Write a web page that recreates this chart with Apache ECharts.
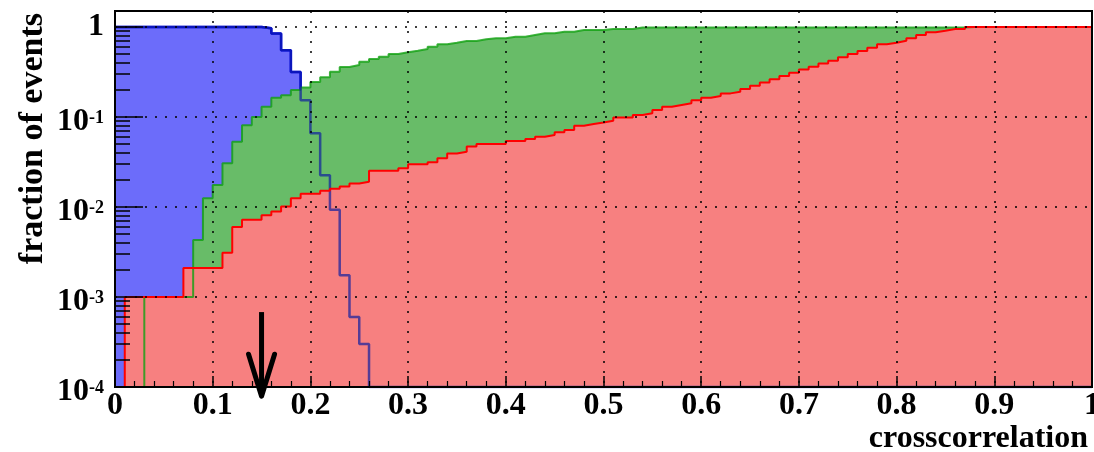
<!DOCTYPE html>
<html><head><meta charset="utf-8">
<script src="https://cdn.jsdelivr.net/npm/echarts@6/dist/echarts.min.js"></script>
<style>html,body{margin:0;padding:0;background:#fff}#c{width:1094px;height:452px}</style>
</head><body><div id="c"></div>
<script>
// ---- data ----
const BIN_WIDTH = 0.01;           // histogram bin width (100 bins on [0,1])
const X_MIN = 0, X_MAX = 1, X_INTERVAL = 0.1;
const Y_MIN = 1e-4, Y_MAX = 1.506;

// fraction of events per bin (bins 0.00-0.01, 0.01-0.02, ... 0.99-1.00); 0 = empty
const blueFraction = [
  1,1,1,1,1,1,1,1,1,1,
  1,1,1,1,1,0.97,0.845,0.55,0.316,0.154,
  0.066,0.0225,0.0093,0.00175,0.0006,0.0003,0,0,0,0,
  0,0,0,0,0,0,0,0,0,0,
  0,0,0,0,0,0,0,0,0,0,
  0,0,0,0,0,0,0,0,0,0,
  0,0,0,0,0,0,0,0,0,0,
  0,0,0,0,0,0,0,0,0,0,
  0,0,0,0,0,0,0,0,0,0,
  0,0,0,0,0,0,0,0,0,0
];
const greenFraction = [
  0,0,0,0.001,0.001,0.001,0.001,0.001,0.0043,0.0125,
  0.0176,0.0306,0.053,0.081,0.10,0.13,0.164,0.175,0.20,0.213,
  0.245,0.276,0.318,0.36,0.378,0.41,0.441,0.468,0.501,0.523,
  0.545,0.569,0.604,0.642,0.669,0.70,0.70,0.73,0.749,0.749,
  0.78,0.78,0.815,0.85,0.85,0.887,0.887,0.926,0.926,0.926,
  0.95,0.95,0.95,0.99,0.99,0.99,0.99,0.99,0.99,0.99,
  0.99,0.99,0.99,0.99,0.99,0.99,0.99,0.99,0.99,0.99,
  0.99,0.99,0.99,0.99,0.99,0.99,0.99,0.99,0.99,0.99,
  0.99,0.99,0.99,0.99,0.99,0.99,0.99,1,1,1,
  1,1,1,1,1,1,1,1,1,1
];
const redFraction = [
  0,0.001,0.001,0.001,0.001,0.001,0.001,0.0021,0.0021,0.0021,
  0.0021,0.0031,0.006,0.0072,0.0072,0.0081,0.0089,0.0101,0.0125,0.014,
  0.014,0.0152,0.016,0.0169,0.0182,0.0191,0.0253,0.0253,0.0253,0.027,
  0.0298,0.0298,0.0314,0.0347,0.0394,0.041,0.047,0.05,0.05,0.05,
  0.054,0.054,0.057,0.0605,0.063,0.0676,0.0716,0.08,0.0835,0.087,
  0.091,0.099,0.099,0.105,0.11,0.12,0.13,0.136,0.142,0.154,
  0.164,0.171,0.183,0.191,0.205,0.223,0.242,0.262,0.286,0.31,
  0.338,0.362,0.393,0.422,0.46,0.50,0.541,0.589,0.642,0.669,
  0.704,0.749,0.815,0.873,0.91,0.95,0.95,1,1,1,
  1,1,1,1,1,1,1,1,1,1
];
// log-axis minor tick values
const yMinorTicks = [
  2e-4,3e-4,4e-4,5e-4,6e-4,7e-4,8e-4,9e-4,
  2e-3,3e-3,4e-3,5e-3,6e-3,7e-3,8e-3,9e-3,
  2e-2,3e-2,4e-2,5e-2,6e-2,7e-2,8e-2,9e-2,
  0.2,0.3,0.4,0.5,0.6,0.7,0.8,0.9
];
// cut marker arrow: x position, shaft top, tip
const arrowMarker = [[0.15, 6.8e-4, 7.9e-5]];

const xTitle = 'crosscorrelation';
const yTitle = 'fraction of events';

// ---- build ----
function toSteps(vals) {
  const d = vals.map((v, i) => [+(i * BIN_WIDTH).toFixed(2), Math.max(v, Y_MIN)]);
  d.push([X_MAX, Math.max(vals[vals.length - 1], Y_MIN)]);
  return d;
}
const FONT = '"Liberation Serif", "Times New Roman", serif';
const blueData = toSteps(blueFraction), greenData = toSteps(greenFraction), redData = toSteps(redFraction);

function areaSeries(data, fill, z) {
  return { type: 'line', data, step: 'end', symbol: 'none', z, silent: true,
    lineStyle: { width: 0, opacity: 0 }, areaStyle: { color: fill, opacity: 1, origin: 'start' } };
}
function lineSeries(data, color, width, opacity, z) {
  return { type: 'line', data, step: 'end', symbol: 'none', z, silent: true,
    lineStyle: { color, width, opacity } };
}

const chart = echarts.init(document.getElementById('c'), null, { renderer: 'canvas' });
chart.setOption({
  animation: false,
  backgroundColor: '#fff',
  grid: { left: 115, right: 2, top: 11, bottom: 65, show: true, borderColor: '#000', borderWidth: 2, outerBoundsMode: 'none' },
  xAxis: [{
    type: 'value', min: X_MIN, max: X_MAX, interval: X_INTERVAL, z: 10,
    name: xTitle, nameLocation: 'end', nameGap: -4, nameMoveOverlap: false,
    nameTextStyle: { fontFamily: FONT, fontWeight: 'bold', fontSize: 32, color: '#000', align: 'right', verticalAlign: 'top', padding: [36, 0, 0, 0] },
    axisLine: { show: true, lineStyle: { color: '#000', width: 2 } },
    axisTick: { show: true, inside: true, length: 11, lineStyle: { color: '#000', width: 1.5 } },
    minorTick: { show: true, splitNumber: 5, length: 6, lineStyle: { color: '#000', width: 1.2 } },
    axisLabel: { fontFamily: FONT, fontWeight: 'bold', fontSize: 32, color: '#000', margin: 3, hideOverlap: false,
      showMinLabel: true, showMaxLabel: true },
    splitLine: { show: true, lineStyle: { color: '#000', width: 1.5, type: [2, 8] } }
  }],
  yAxis: [{
    type: 'log', logBase: 10, min: Y_MIN, max: Y_MAX, z: 10,
    name: yTitle, nameLocation: 'end', nameGap: -2, nameRotate: 90, nameMoveOverlap: false,
    nameTextStyle: { fontFamily: FONT, fontWeight: 'bold', fontSize: 34, color: '#000', align: 'right', verticalAlign: 'bottom', padding: [0, 0, 65, 0] },
    axisLine: { show: true, lineStyle: { color: '#000', width: 2 } },
    axisTick: { show: true, inside: true, length: 28, lineStyle: { color: '#000', width: 1.5 } },
    axisLabel: {
      fontFamily: FONT, fontWeight: 'bold', fontSize: 32, color: '#000', margin: 11, hideOverlap: false,
      showMinLabel: true, showMaxLabel: true,
      formatter: v => {
        const l = Math.log10(v), e = Math.round(l);
        if (Math.abs(l - e) > 1e-6) return '';
        if (e === 0) return '1';
        return '{b|10}{s|' + e + '}';
      },
      rich: {
        b: { fontFamily: FONT, fontWeight: 'bold', fontSize: 32, color: '#000', padding: [10, 0, 0, 0] },
        s: { fontFamily: FONT, fontWeight: 'bold', fontSize: 18, color: '#000', verticalAlign: 'top', padding: [13, 0, 0, 0] }
      }
    },
    splitLine: { show: true, lineStyle: { color: '#000', width: 1.5, type: [2, 8] } }
  }, {
    type: 'log', logBase: 10, min: Y_MIN, max: Y_MAX, z: 10, position: 'left',
    axisLine: { show: false }, axisLabel: { show: false }, splitLine: { show: false },
    axisTick: { show: true, inside: true, length: 15, customValues: yMinorTicks, lineStyle: { color: '#000', width: 1.5 } }
  }, {
    type: 'log', logBase: 10, min: Y_MIN, max: Y_MAX, z: 10, position: 'right',
    axisLine: { show: true, onZero: false, lineStyle: { color: '#000', width: 2 } },
    axisLabel: { show: false }, splitLine: { show: false }, axisTick: { show: false }
  }],
  series: [
    areaSeries(blueData, 'rgb(108,108,250)', 1),
    lineSeries(blueData, '#0000ff', 2.5, 1, 1.5),
    areaSeries(greenData, 'rgb(104,188,104)', 2),
    areaSeries(redData, 'rgb(247,128,128)', 3),
    lineSeries(greenData, '#10a010', 2, 0.8, 4),
    lineSeries(blueData, '#1020a0', 2.5, 0.7, 5),
    lineSeries(redData, '#ff0000', 2, 1, 6),
    {
      type: 'custom', z: 7, silent: true, clip: false,
      data: arrowMarker,
      encode: { x: 0, y: [1, 2] },
      renderItem: (params, api) => {
        const x = api.value(0);
        const top = api.coord([x, api.value(1)]);
        const tip = api.coord([x, api.value(2)]);
        return { type: 'group', children: [
          { type: 'line', shape: { x1: top[0], y1: top[1], x2: tip[0], y2: tip[1] - 4 }, style: { stroke: '#000', lineWidth: 5 } },
          { type: 'polyline', shape: { points: [[tip[0] - 13, tip[1] - 42], [tip[0], tip[1]], [tip[0] + 13, tip[1] - 42]] },
            style: { stroke: '#000', lineWidth: 5, fill: null, lineJoin: 'round', lineCap: 'round' } }
        ] };
      }
    }
  ]
});
</script></body></html>
